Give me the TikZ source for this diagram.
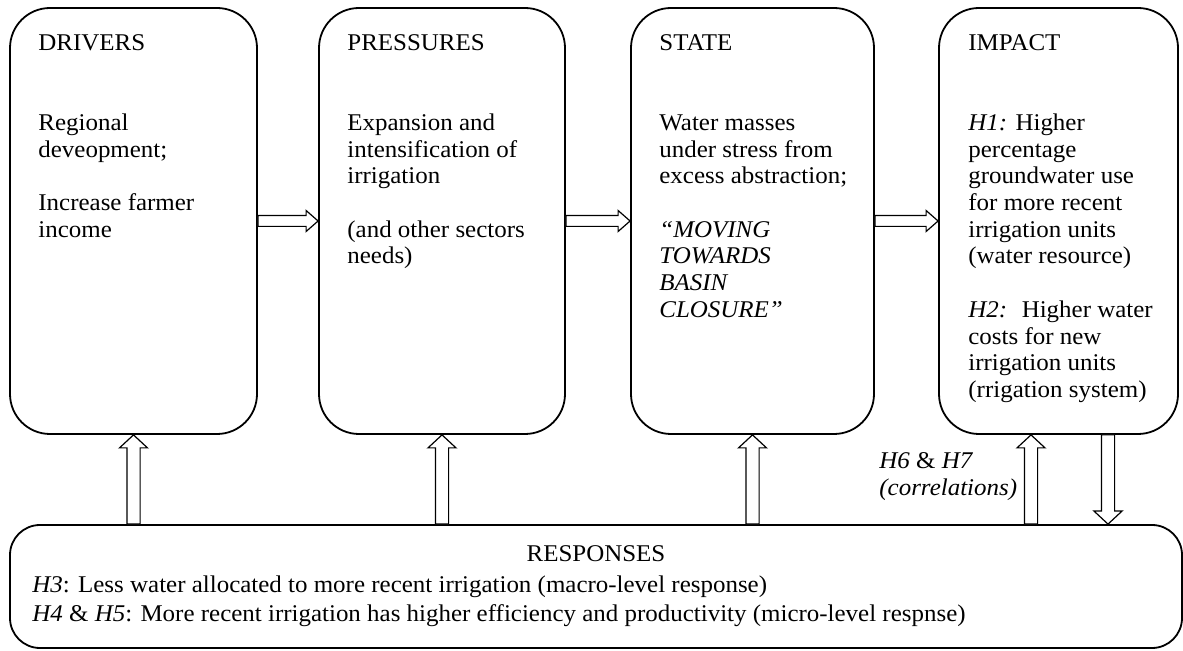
\documentclass[tikz,border=0pt]{standalone}
\usepackage{fontspec}
\setmainfont{Liberation Serif}[FakeStretch=1.04]
\usetikzlibrary{calc}

\newcommand\bodyfont{\fontsize{12pt}{13.35pt}\selectfont}

\tikzset{
  box/.style={draw, line width=0.9pt, rounded corners=20pt, inner sep=0pt},
  rbox/.style={box, rounded corners=15pt},
  txt/.style={anchor=north west, inner sep=0pt, align=left, font=\bodyfont},
  line/.style={inner sep=0pt, font=\bodyfont},
  % hollow block arrow: shaft half-width, head half-width, head length
  hollow/.style n args={3}{draw, line width=0.6pt, fill=white, line join=miter,
    to path={
      ($(\tikztostart)!#1!90:(\tikztotarget)$)
      -- ($(\tikztotarget)!#3!(\tikztostart)!#1!-90:(\tikztostart)$)
      -- ($(\tikztotarget)!#3!(\tikztostart)!#2!-90:(\tikztostart)$)
      -- (\tikztotarget)
      -- ($(\tikztotarget)!#3!(\tikztostart)!#2!90:(\tikztostart)$)
      -- ($(\tikztotarget)!#3!(\tikztostart)!#1!90:(\tikztostart)$)
      -- ($(\tikztostart)!#1!-90:(\tikztotarget)$)
      -- cycle}},
  flow/.style={hollow={2.7pt}{5.25pt}{6pt}},
  feedback/.style={hollow={3.3pt}{7pt}{6.5pt}},
}

\begin{document}
\begin{tikzpicture}[x=0.5pt, y=-0.5pt]
\useasboundingbox (0,0) rectangle (1183,651);

% DPSIR boxes
\node[box, minimum width=123.5pt, minimum height=213pt] (d) at (133.5,221) {};
\node[box, minimum width=123pt,   minimum height=213pt] (p) at (442,221) {};
\node[box, minimum width=121.5pt, minimum height=213pt] (s) at (752.5,221) {};
\node[box, minimum width=119.5pt, minimum height=213pt] (i) at (1058.5,221) {};
\node[rbox, minimum width=586pt, minimum height=61.5pt] (r) at (596,586.5) {};

% box contents
\node[txt] (dt) at (38,31.3) {\strut DRIVERS\\[26.7pt]Regional\\deveopment;\\[13.35pt]Increase farmer\\income};
\node[txt] (pt) at (347,31.3) {\strut PRESSURES\\[26.7pt]Expansion and\\intensification of\\irrigation\\[13.35pt](and other sectors\\needs)};
\node[txt] (st) at (659,31.3) {\strut STATE\\[26.7pt]Water masses\\under stress from\\excess abstraction;\\[13.35pt]\textit{“MOVING}\\\textit{TOWARDS}\\\textit{BASIN}\\\textit{CLOSURE”}};
\node[txt] (it) at (968,31.3) {\strut IMPACT\\[26.7pt]\textit{H1:} Higher\\percentage\\groundwater use\\for more recent\\irrigation units\\(water resource)\\[13.35pt]\textit{H2:}~ Higher water\\costs for new\\irrigation units\\(rrigation system)};

\node[line, anchor=base] (rt) at (596,561) {RESPONSES};
\node[line, anchor=base west] (h3) at (32,593) {\textit{H3}: Less water allocated to more recent irrigation (macro-level response)};
\node[line, anchor=base west] (h45) at (32,622) {\textit{H4} \& \textit{H5}: More recent irrigation has higher efficiency and productivity (micro-level respnse)};

\node[txt] (corr) at (879,449.3) {\strut\textit{H6} \& \textit{H7}\\\textit{(correlations)}};

% causal chain
\draw[flow] (d.east) to (p.west);
\draw[flow] (p.east) to (s.west);
\draw[flow] (s.east) to (i.west);

% responses feeding back
\coordinate (iu) at ([xshift=-13.75pt]i.south);
\coordinate (id) at ([xshift=24.75pt]i.south);
\draw[feedback] (r.north -| d.south) to (d.south);
\draw[feedback] (r.north -| p.south) to (p.south);
\draw[feedback] (r.north -| s.south) to (s.south);
\draw[feedback] (r.north -| iu) to (iu);
\draw[feedback] (id) to (r.north -| id);
\end{tikzpicture}
\end{document}
